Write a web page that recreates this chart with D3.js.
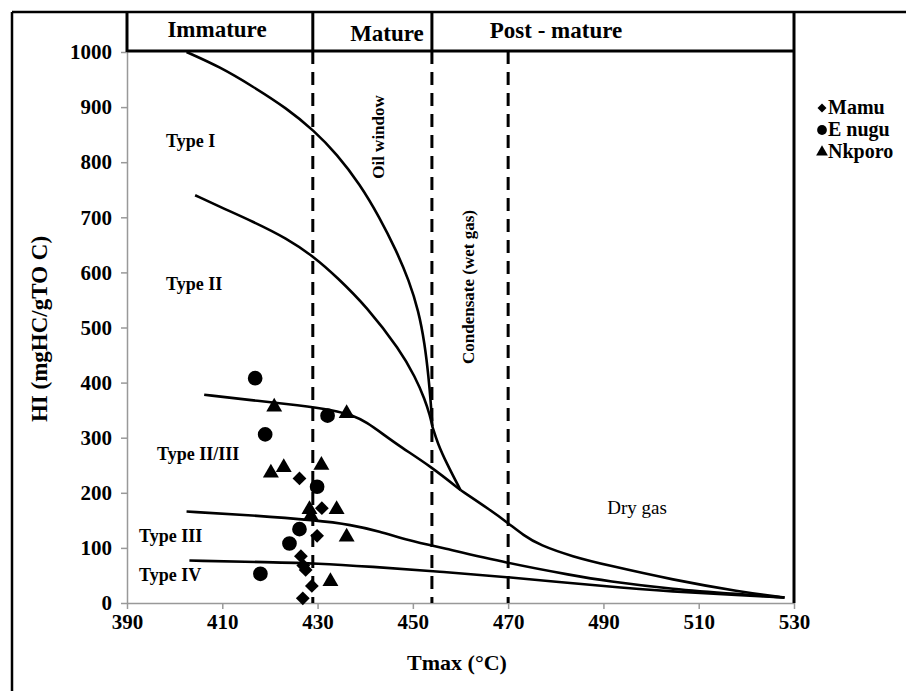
<!DOCTYPE html>
<html>
<head>
<meta charset="utf-8">
<script src="https://cdn.jsdelivr.net/npm/d3@7"></script>
<style>
  body { margin: 0; background: #fff; }
  svg text { font-family: "Liberation Serif", "Times New Roman", serif; font-weight: bold; fill: #000; }
</style>
</head>
<body>
<svg width="906" height="691"></svg>
<script>
// Axis ticks
var xTicks = [390, 410, 430, 450, 470, 490, 510, 530];
var yTicks = [0, 100, 200, 300, 400, 500, 600, 700, 800, 900, 1000];

// Maturity zone boundaries (Tmax)
var zoneLines = [429, 454, 470];
var zoneNames = ["Immature", "Mature", "Post - mature"];

// Kerogen type curves [Tmax, HI]
var typeI = [[402.5,1000],[409.5,973],[416.5,937],[423.5,898],[429.3,857],[434,815],[438.9,760],[443,700],[446.5,640],[449.2,585],[451.2,530],[452.5,470],[453.3,410],[453.8,360],[454.1,320]];
var typeII = [[404.3,740],[409.5,719],[416.5,692],[423.5,662],[429.3,628],[434,592],[440.3,538],[447.3,459],[450.5,410],[452.5,370],[453.6,340],[454.1,320]];
var merged = [[454.1,320],[455.2,290],[457,255],[460,205]];
var typeIIIII = [[406.2,378],[416,368],[426.3,359],[433.3,350],[437.5,340],[440.3,328],[443.8,306],[447.3,284],[453.9,247],[460,205]];
var tail = [[460,205],[466.2,169],[470,145],[473.2,123],[476.6,105],[483.6,84],[490.6,69],[504.6,42],[518.6,20.5],[528,10]];
var typeIII = [[402.5,166],[415,160],[430,150],[437,142],[443,130],[449,114],[455.7,101],[470,72],[483.6,50],[490.6,40],[504.6,25],[518.6,16],[528,10]];
var typeIV = [[403.1,77],[420,74],[430,72],[441,66],[455.7,57],[470,47],[490.6,30],[504.6,20.5],[518.6,14.5],[528,10]];

// Samples [Tmax, HI]
var mamu = [[426.2,226],[430.9,172],[429.9,122],[426.5,85],[427,68],[427.5,60],[428.8,31],[426.9,8.5]];
var enugu = [[416.9,408],[419.0,306],[432.1,340],[429.9,211],[426.2,134],[424.1,108],[418.0,53]];
var nkporo = [[420.9,356],[436.1,344],[420.2,236],[422.9,246],[430.8,250],[428.3,170],[428.6,158],[434.0,170],[436.1,120],[432.7,39]];

var svg = d3.select("svg");
var x = d3.scaleLinear().domain([390, 530]).range([127, 794]);
var y = d3.scaleLinear().domain([0, 1000]).range([603, 52]);

// outer frame
svg.append("line").attr("x1", 12).attr("y1", 12).attr("x2", 906).attr("y2", 12)
    .attr("stroke", "#000").attr("stroke-width", 2.5);
svg.append("line").attr("x1", 12).attr("y1", 12).attr("x2", 12).attr("y2", 691)
    .attr("stroke", "#000").attr("stroke-width", 2.5);

// axes
var xAxis = svg.append("g").attr("transform", "translate(0," + y(0) + ")")
    .call(d3.axisBottom(x).tickValues(xTicks).tickSize(6).tickSizeOuter(0).tickPadding(5));
var yAxis = svg.append("g").attr("transform", "translate(" + x(390) + ",0)")
    .call(d3.axisLeft(y).tickValues(yTicks).tickFormat(d3.format("d")).tickSize(6).tickSizeOuter(0).tickPadding(9));
[xAxis, yAxis].forEach(function(g) {
    g.selectAll("path, line").attr("stroke", "#999").attr("stroke-width", 1.5);
    g.selectAll("text").style("font-size", "21px").style("font-family", "Liberation Serif").style("font-weight", "bold");
});

// header box
var hTop = 12, hBot = 51;
svg.append("line").attr("x1", x(390)).attr("y1", hTop).attr("x2", x(390)).attr("y2", hBot + 1)
    .attr("stroke", "#000").attr("stroke-width", 3);
svg.append("line").attr("x1", x(390)).attr("y1", hBot).attr("x2", x(530)).attr("y2", hBot)
    .attr("stroke", "#000").attr("stroke-width", 3);
svg.append("line").attr("x1", x(530)).attr("y1", hTop).attr("x2", x(530)).attr("y2", y(0))
    .attr("stroke", "#000").attr("stroke-width", 3);
svg.selectAll(".hsep").data(zoneLines.slice(0, 2)).enter().append("line")
    .attr("x1", function(d) { return x(d); }).attr("x2", function(d) { return x(d); })
    .attr("y1", hTop).attr("y2", hBot)
    .attr("stroke", "#000").attr("stroke-width", 3);

// dashed boundaries
svg.selectAll(".dash").data(zoneLines).enter().append("line")
    .attr("x1", function(d) { return x(d); }).attr("x2", function(d) { return x(d); })
    .attr("y1", hBot).attr("y2", y(0))
    .attr("stroke", "#000").attr("stroke-width", 3).attr("stroke-dasharray", "13,8");

var zoneCenters = [217, 387, 556];
var zoneY = [37, 41, 38];
svg.selectAll(".zname").data(zoneNames).enter().append("text")
    .attr("x", function(d, i) { return zoneCenters[i]; })
    .attr("y", function(d, i) { return zoneY[i]; })
    .attr("text-anchor", "middle").style("font-size", "23px")
    .text(function(d) { return d; });

// curves
var line = d3.line().x(function(d) { return x(d[0]); }).y(function(d) { return y(d[1]); })
    .curve(d3.curveBasis);
[typeI, typeII, merged, typeIIIII, tail, typeIII, typeIV].forEach(function(c) {
    svg.append("path").attr("d", line(c)).attr("fill", "none")
        .attr("stroke", "#000").attr("stroke-width", 2.6);
});

// region labels
var labels = [
    {t: "Type I", x: 166, y: 147},
    {t: "Type II", x: 166, y: 290},
    {t: "Type II/III", x: 157, y: 460},
    {t: "Type III", x: 139, y: 542},
    {t: "Type IV", x: 139, y: 581}
];
svg.selectAll(".tl").data(labels).enter().append("text")
    .attr("x", function(d) { return d.x; }).attr("y", function(d) { return d.y; })
    .style("font-size", "18px").text(function(d) { return d.t; });

svg.append("text").attr("transform", "translate(384,137) rotate(-90)")
    .attr("text-anchor", "middle").style("font-size", "17px").text("Oil window");
svg.append("text").attr("transform", "translate(474,287) rotate(-90)")
    .attr("text-anchor", "middle").style("font-size", "17px").text("Condensate (wet gas)");
svg.append("text").attr("x", 637).attr("y", 514).attr("text-anchor", "middle")
    .style("font-size", "19px").style("font-weight", "normal").text("Dry gas");

// points
var diamond = d3.symbol().type(d3.symbolSquare).size(95)();
var circle = d3.symbol().type(d3.symbolCircle).size(170)();
var tri = d3.symbol().type(d3.symbolTriangle).size(110)();

svg.selectAll(".en").data(enugu).enter().append("path").attr("d", circle)
    .attr("transform", function(d) { return "translate(" + x(d[0]) + "," + y(d[1]) + ")"; });
svg.selectAll(".nk").data(nkporo).enter().append("path").attr("d", tri)
    .attr("transform", function(d) { return "translate(" + x(d[0]) + "," + y(d[1]) + ")"; });
svg.selectAll(".ma").data(mamu).enter().append("path").attr("d", diamond)
    .attr("transform", function(d) { return "translate(" + x(d[0]) + "," + y(d[1]) + ") rotate(45)"; });

// legend
var legend = [
    {name: "Mamu", sym: d3.symbol().type(d3.symbolSquare).size(40)(), rot: 45},
    {name: "E nugu", sym: d3.symbol().type(d3.symbolCircle).size(75)(), rot: 0},
    {name: "Nkporo", sym: d3.symbol().type(d3.symbolTriangle).size(60)(), rot: 0}
];
var lg = svg.selectAll(".lg").data(legend).enter().append("g")
    .attr("transform", function(d, i) { return "translate(822," + (108 + i * 22) + ")"; });
lg.append("path").attr("d", function(d) { return d.sym; })
    .attr("transform", function(d) { return "rotate(" + d.rot + ")"; });
lg.append("text").attr("x", 6).attr("y", 6).style("font-size", "20px").text(function(d) { return d.name; });

// axis titles
svg.append("text").attr("x", 457).attr("y", 670).attr("text-anchor", "middle")
    .style("font-size", "22px").text("Tmax (°C)");
svg.append("text").attr("transform", "translate(47,329) rotate(-90)")
    .attr("text-anchor", "middle").style("font-size", "23px").text("HI (mgHC/gTO C)");
</script>
</body>
</html>
